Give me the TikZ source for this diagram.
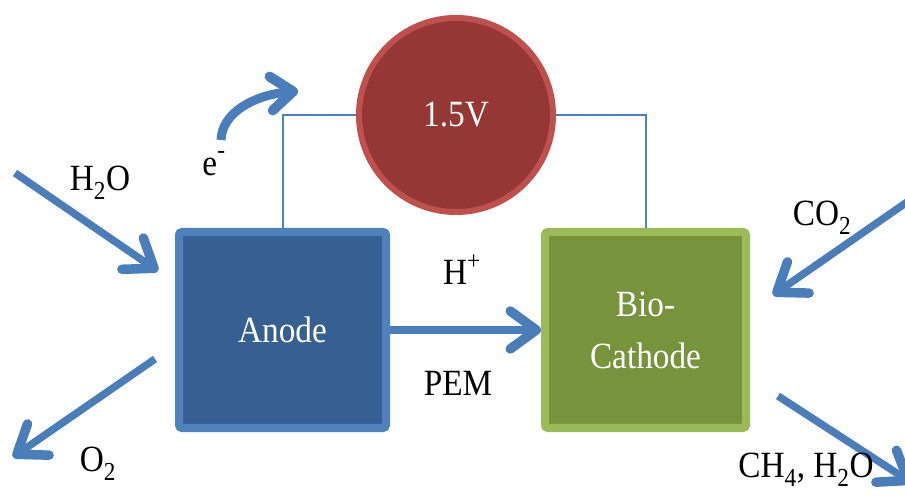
\documentclass[tikz,border=0pt]{standalone}
\usepackage{fontspec}
\setmainfont{Liberation Serif}[FakeStretch=0.9]
\usetikzlibrary{arrows.meta}
\definecolor{arrowblue}{HTML}{4A7EBB}
\definecolor{anodeline}{HTML}{4F81BD}
\definecolor{anodefill}{HTML}{376092}
\definecolor{cathline}{HTML}{9BBB59}
\definecolor{cathfill}{HTML}{77933C}
\definecolor{voltline}{HTML}{C0504D}
\definecolor{voltfill}{HTML}{953735}
\begin{document}
\begin{tikzpicture}[x=1pt,y=-1pt,
  lbl/.style={font=\fontsize{37}{40}\selectfont, inner sep=0pt},
  boxnode/.style={rectangle, rounded corners=3pt, line width=8pt, font=\fontsize{37}{52}\selectfont, text=white, align=center},
  flow/.style={draw=arrowblue, line width=7.5pt, -{Straight Barb[length=26pt,width=38pt,line width=9.5pt,round]}},
  eflow/.style={draw=arrowblue, line width=9pt, -{Straight Barb[length=22pt,width=34pt,line width=10pt,round]}},
  wire/.style={draw=anodeline, line width=2pt}
]
\useasboundingbox (0,0) rectangle (905,502);
\node[boxnode, draw=anodeline, fill=anodefill, minimum width=207pt, minimum height=196pt] (anode) at (282.5,330) {Anode};
\node[boxnode, draw=cathline, fill=cathfill, minimum width=201pt, minimum height=196pt] (cathode) at (645.5,330) {Bio-\\Cathode};
\node[circle, draw=voltline, fill=voltfill, line width=6pt, minimum size=194pt, text=white, font=\fontsize{37}{40}\selectfont] (volt) at (456,115) {1.5V};
\draw[wire] (anode.north) |- (volt.west);
\draw[wire] (volt.east) -| (cathode.north);
\draw[flow] (anode.east) -- (cathode.west);
\coordinate (h2oS) at (15,173);
\coordinate (h2oE) at (158,271);
\coordinate (o2S) at (155,359);
\coordinate (o2E) at (13,457);
\coordinate (co2S) at (910,200);
\coordinate (co2E) at (773,295);
\coordinate (ch4S) at (778,396);
\coordinate (ch4E) at (912,483);
\coordinate (eS) at (221,140);
\coordinate (eE) at (298,91);
\draw[flow] (h2oS) -- (h2oE);
\draw[flow] (o2S) -- (o2E);
\draw[flow] (co2S) -- (co2E);
\draw[flow] (ch4S) -- (ch4E);
\draw[eflow] (eS) .. controls (222,112) and (255,95) .. (eE);
\node[lbl] (lh2o) at (100,183) {H\textsubscript{2}O};
\node[lbl] (le) at (214,164) {e\raisebox{8pt}{\textsuperscript{-}}};
\node[lbl] (lo2) at (98,464) {O\textsubscript{2}};
\node[lbl] (lco2) at (822,218) {CO\textsubscript{2}};
\node[lbl] (lch4) at (806,470) {CH\textsubscript{4}, H\textsubscript{2}O};
\node[lbl] (lh) at (462,270) {H\raisebox{6pt}{\textsuperscript{+}}};
\node[lbl] (lpem) at (458,383) {PEM};
\end{tikzpicture}
\end{document}
